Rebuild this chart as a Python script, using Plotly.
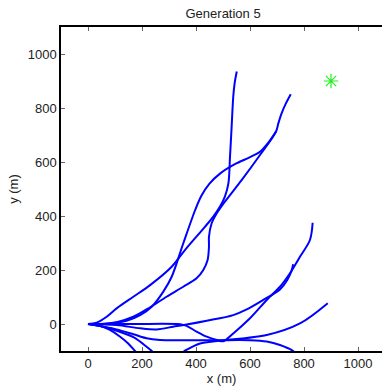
import plotly.graph_objects as go

# Trajectories (x, y in metres)
c1_x = [0, 32, 69, 106, 168, 230, 310, 359, 433, 464, 489, 507, 520, 526, 532, 538, 543, 551]
c1_y = [0, 5, 27, 58, 101, 144, 212, 274, 360, 398, 435, 472, 521, 620, 731, 842, 891, 935]

c2_x = [0, 44, 106, 168, 230, 291, 353, 402, 427, 443, 448, 448, 458, 477, 507, 569, 637, 696, 705, 717, 733, 751]
c2_y = [0, 0, 7, 27, 62, 101, 138, 169, 200, 237, 286, 323, 373, 410, 453, 533, 626, 712, 743, 780, 817, 851]

c3_x = [0, 81, 143, 193, 236, 279, 310, 353, 398, 420, 450, 490, 544, 600, 637, 668, 696]
c3_y = [0, 2, 12, 33, 64, 120, 175, 299, 425, 475, 520, 558, 592, 618, 638, 672, 712]

c4_x = [0, 168, 341, 365, 402, 440, 477, 501, 538, 600, 662, 711, 748, 785, 822, 832]
c4_y = [0, 0, -1, -7, -28, -47, -59, -64, -35, 21, 89, 138, 188, 249, 311, 375]

c5_x = [0, 106, 193, 254, 316, 365, 440, 538, 588, 649, 711, 738, 754, 760]
c5_y = [0, -4, -16, -20, -10, -2, 12, 33, 54, 89, 128, 163, 198, 221]

c6_x = [0, 44, 81, 119, 149, 174, 210, 280, 330, 357, 415, 489, 662, 785, 888]
c6_y = [0, -7, -22, -47, -72, -100, -140, -150, -118, -100, -72, -62, -41, 2, 77]

c7_x = [0, 57, 106, 168, 217, 236, 255]
c7_y = [0, -10, -25, -49, -84, -100, -125]

c8_x = [0, 57, 106, 168, 217, 267, 353, 477, 600, 662, 711, 760, 790]
c8_y = [0, -10, -20, -38, -53, -59, -60, -60, -60, -65, -78, -100, -130]

goal_x = [900]
goal_y = [900]

curves = [(c1_x, c1_y), (c2_x, c2_y), (c3_x, c3_y), (c4_x, c4_y),
          (c5_x, c5_y), (c6_x, c6_y), (c7_x, c7_y), (c8_x, c8_y)]

x_ticks = [0, 200, 400, 600, 800, 1000]
y_ticks = [0, 200, 400, 600, 800, 1000]

fig = go.Figure()
for cx, cy in curves:
    fig.add_trace(go.Scatter(x=cx, y=cy, mode="lines",
                             line=dict(color="#0000ff", width=2, shape="spline", smoothing=0.9),
                             showlegend=False, hoverinfo="skip"))

fig.add_trace(go.Scatter(x=goal_x, y=goal_y, mode="markers",
                         marker=dict(symbol="asterisk-open", size=12, color="#22ee22",
                                     line=dict(color="#22ee22", width=1.2)),
                         showlegend=False))

font = dict(family="Liberation Sans, Arial, sans-serif", size=13, color="#222222")

fig.update_layout(
    width=382, height=389,
    margin=dict(l=61, r=0, t=27, b=38),
    paper_bgcolor="white", plot_bgcolor="white",
    font=font,
    title=dict(text="Generation 5", x=0.584, xref="container", xanchor="center",
               y=1 - 13 / 389, yref="container", yanchor="middle",
               font=dict(size=13, color="#222222")),
)
fig.update_xaxes(range=[-100, 1088.9], tickvals=x_ticks, ticks="inside", ticklen=4,
                 tickcolor="#666666", showline=True, linecolor="black", linewidth=1.5,
                 mirror="ticks", showgrid=False, zeroline=False,
                 title=dict(text="x (m)", standoff=2, font=font))
fig.update_yaxes(range=[-100, 1100], tickvals=y_ticks, ticks="inside", ticklen=4,
                 tickcolor="#666666", showline=True, linecolor="black", linewidth=1.5,
                 mirror=False, showgrid=False, zeroline=False,
                 title=dict(text="y (m)", standoff=6, font=font))

fig.write_html("out.html")
